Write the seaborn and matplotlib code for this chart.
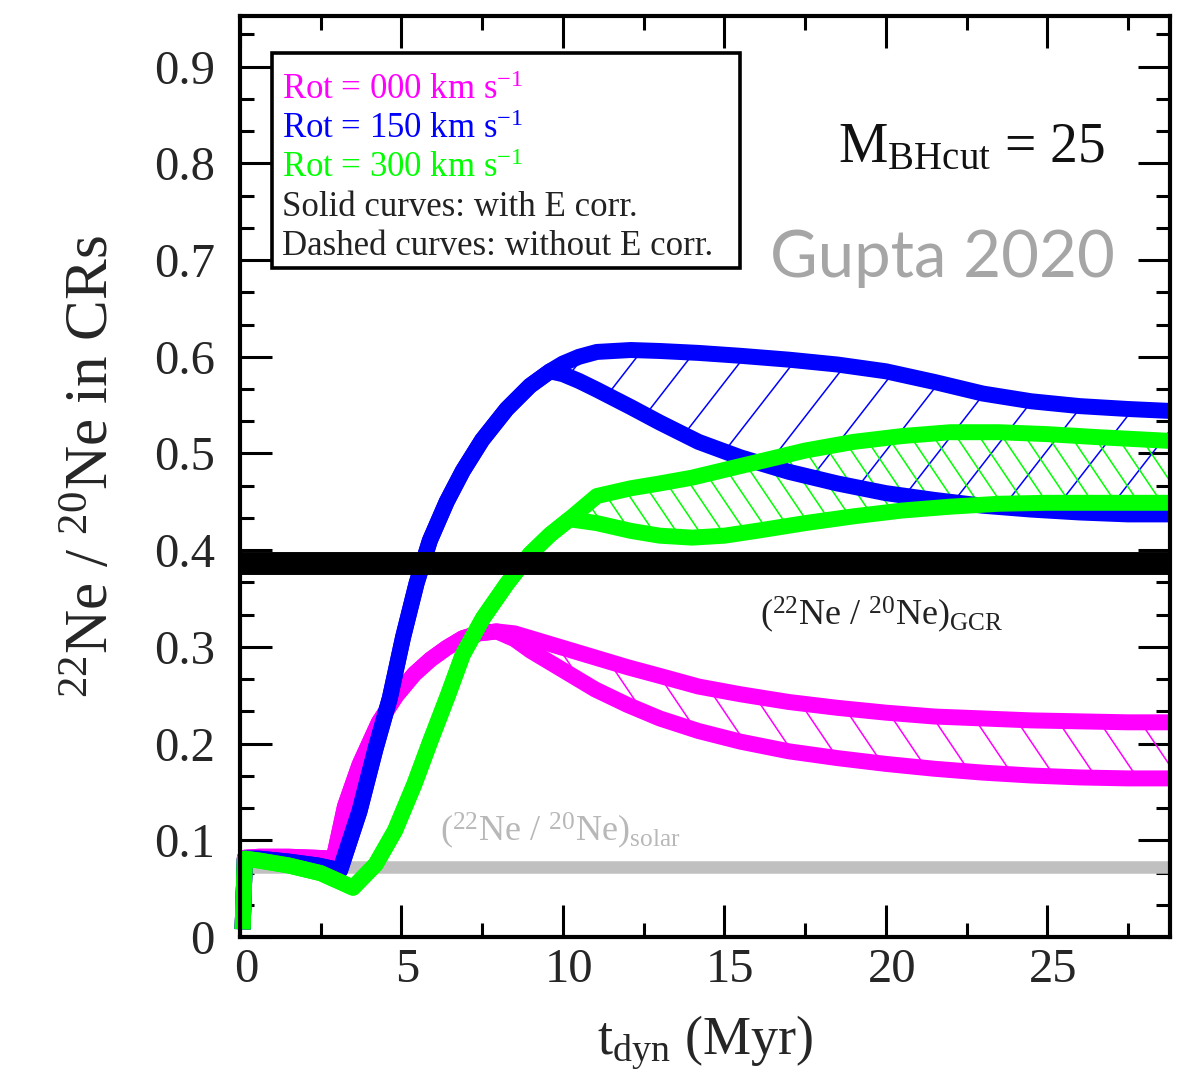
import numpy as np
import matplotlib
matplotlib.use("Agg")
import matplotlib.pyplot as plt
from matplotlib.ticker import MultipleLocator, FuncFormatter
from matplotlib.patches import Rectangle
from matplotlib.transforms import ScaledTranslation
import seaborn as sns

# ---- data: 22Ne/20Ne ratio vs dynamical time (Myr) for three rotation speeds ----
t_000 = [0.08, 0.15, 0.6, 1.5, 2.3, 2.9, 3.25, 3.7, 4.3, 4.85, 5.4, 5.9, 6.4, 6.9, 7.4, 7.95,
         8.5, 9.0, 10.0, 11.0, 12.0, 13.0, 14.2, 15.5, 17.0, 18.5, 20.0, 21.5, 23.0, 24.5, 26.0, 27.5, 28.8]
rot000_with = [0.008, 0.082, 0.083, 0.083, 0.082, 0.081, 0.135, 0.178, 0.222, 0.250, 0.272, 0.287, 0.299, 0.309, 0.314, 0.316,
               0.314, 0.309, 0.299, 0.289, 0.279, 0.270, 0.259, 0.251, 0.243, 0.237, 0.232, 0.228, 0.226, 0.224, 0.223, 0.222, 0.222]
rot000_without = [0.008, 0.082, 0.083, 0.083, 0.082, 0.081, 0.135, 0.178, 0.222, 0.250, 0.272, 0.287, 0.299, 0.309, 0.314, 0.316,
                  0.308, 0.296, 0.276, 0.256, 0.240, 0.226, 0.213, 0.202, 0.192, 0.185, 0.179, 0.174, 0.170, 0.167, 0.165, 0.164, 0.164]

t_150 = [0.08, 0.15, 0.6, 1.5, 2.4, 3.1, 3.7, 4.2, 4.64, 5.05, 5.47, 5.88, 6.4, 6.9, 7.5, 8.26, 8.98, 9.6,
         10.0, 10.5, 11.05, 12.1, 13.0, 14.2, 15.5, 17.0, 18.5, 20.0, 21.5, 23.0, 24.5, 26.0, 27.5, 28.8]
rot150_with = [0.008, 0.081, 0.081, 0.078, 0.074, 0.069, 0.130, 0.195, 0.247, 0.310, 0.366, 0.410, 0.450, 0.482, 0.514, 0.546, 0.570, 0.585,
               0.593, 0.600, 0.605, 0.607, 0.606, 0.604, 0.601, 0.597, 0.592, 0.585, 0.574, 0.562, 0.554, 0.549, 0.546, 0.544]
rot150_without = [0.008, 0.081, 0.081, 0.078, 0.074, 0.069, 0.130, 0.195, 0.247, 0.310, 0.366, 0.410, 0.450, 0.482, 0.514, 0.546, 0.570, 0.585,
                  0.582, 0.575, 0.566, 0.548, 0.532, 0.512, 0.496, 0.481, 0.469, 0.459, 0.452, 0.446, 0.442, 0.439, 0.437, 0.437]

t_300 = [0.08, 0.15, 0.6, 1.5, 2.5, 3.5, 4.2, 4.8, 5.4, 5.9, 6.44, 6.9, 7.53, 8.26, 8.98, 9.6, 10.2,
         11.05, 12.1, 13.0, 14.0, 15.0, 16.0, 17.5, 19.0, 20.5, 22.0, 23.5, 25.0, 26.5, 28.8]
rot300_with = [0.008, 0.081, 0.079, 0.074, 0.066, 0.051, 0.075, 0.110, 0.158, 0.203, 0.250, 0.292, 0.330, 0.365, 0.396, 0.416, 0.432,
               0.456, 0.464, 0.469, 0.475, 0.483, 0.491, 0.503, 0.512, 0.518, 0.522, 0.522, 0.520, 0.517, 0.513]
rot300_without = [0.008, 0.081, 0.079, 0.074, 0.066, 0.051, 0.075, 0.110, 0.158, 0.203, 0.250, 0.292, 0.330, 0.365, 0.396, 0.416, 0.432,
                  0.428, 0.420, 0.415, 0.413, 0.415, 0.420, 0.428, 0.435, 0.441, 0.445, 0.448, 0.449, 0.449, 0.449]

gcr_ratio = 0.387
solar_ratio = 0.0725

legend_lines = ["Rot = 000 km s$^{-1}$", "Rot = 150 km s$^{-1}$", "Rot = 300 km s$^{-1}$",
                "Solid curves: with E corr.", "Dashed curves: without E corr."]
x_ticks = [0, 5, 10, 15, 20, 25]
y_ticks = [0, 0.1, 0.2, 0.3, 0.4, 0.5, 0.6, 0.7, 0.8, 0.9]

MAGENTA, BLUE, GREEN = "#ff00ff", "#0000ff", "#00ff00"

sns.set_style("ticks")
plt.rcParams["font.family"] = ["Liberation Serif", "DejaVu Serif"]
plt.rcParams["mathtext.fontset"] = "custom"
plt.rcParams["mathtext.rm"] = "Liberation Serif"
plt.rcParams["mathtext.it"] = "Liberation Serif:italic"
plt.rcParams["mathtext.bf"] = "Liberation Serif:bold"

fig = plt.figure(figsize=(11.95, 10.82), dpi=100)
ax = fig.add_axes([240 / 1195, 1 - 937 / 1082, 930 / 1195, 921 / 1082])
ax.set_facecolor("white")


def hatch_between(t, y1, y2, color, spacing, slope, lw=1.1):
    """Fill the band between two curves with thin diagonal hatch lines."""
    band = ax.fill_between(t, y1, y2, facecolor="none", edgecolor="none", linewidth=0, zorder=1)
    clip = band.get_paths()[0]
    for c in np.arange(-3.0, 3.0, spacing):
        xs = np.array([-0.1, 1.1])
        ys = c + slope * xs
        ln, = ax.plot(xs, ys, transform=ax.transAxes, color=color, lw=lw, zorder=1.5)
        ln.set_clip_path(clip, ax.transData)


hatch_between(t_000, rot000_with, rot000_without, MAGENTA, 0.066, -1.5)
hatch_between(t_150, rot150_with, rot150_without, BLUE, 0.075, 1.3)
hatch_between(t_300, rot300_with, rot300_without, GREEN, 0.037, -1.5)

# reference ratios
ax.axhline(solar_ratio, color="#c0c0c0", lw=9, zorder=2)

curve_kw = dict(linewidth=11.5, estimator=None, sort=False, clip_on=False,
                solid_joinstyle="round", solid_capstyle="butt", zorder=3)
for t, ya, yb, col in [(t_000, rot000_with, rot000_without, MAGENTA),
                       (t_150, rot150_with, rot150_without, BLUE),
                       (t_300, rot300_with, rot300_without, GREEN)]:
    sns.lineplot(x=t, y=ya, color=col, ax=ax, **curve_kw)
    sns.lineplot(x=t, y=yb, color=col, ax=ax, **curve_kw)

ax.axhline(gcr_ratio, color="black", lw=16.5, zorder=4)

ax.text(16.1, 0.3225, r"($^{22}$Ne / $^{20}$Ne)$_{\mathrm{GCR}}$", fontsize=26,
        color="#222222", ha="left", va="baseline", zorder=5)
ax.text(6.19, 0.099, r"($^{22}$Ne / $^{20}$Ne)$_{\mathrm{solar}}$", fontsize=26,
        color="#b8b8b8", ha="left", va="baseline", zorder=5)

# axes, ticks
ax.set_xlim(0, 28.8)
ax.set_ylim(0, 0.9524)
ax.set_xticks(x_ticks)
ax.set_yticks(y_ticks)
ax.xaxis.set_minor_locator(MultipleLocator(2.5))
ax.yaxis.set_minor_locator(MultipleLocator(0.1 / 3))
ax.xaxis.set_major_formatter(FuncFormatter(lambda v, p: f"{v:.0f}"))
ax.yaxis.set_major_formatter(FuncFormatter(lambda v, p: "0" if abs(v) < 1e-9 else f"{v:.1f}"))
ax.tick_params(which="both", direction="in", top=True, right=True, width=2.2, color="black")
ax.tick_params(which="major", length=23)
ax.tick_params(which="minor", length=10)
ax.tick_params(axis="y", which="major", labelsize=35, pad=18)
ax.tick_params(axis="x", which="major", labelsize=35, pad=8)
shift = ScaledTranslation(6 / 100, 0, fig.dpi_scale_trans)
for lab in ax.get_xticklabels():
    lab.set_transform(lab.get_transform() + shift)
for s in ax.spines.values():
    s.set_linewidth(3)
    s.set_color("black")
    s.set_zorder(6)

ax.set_ylabel(r"$^{22}$Ne / $^{20}$Ne in CRs", fontsize=44)
ax.yaxis.set_label_coords(-0.128, 0.511)
ax.set_xlabel(r"t$_{\mathrm{dyn}}$ (Myr)", fontsize=39)
ax.xaxis.set_label_coords(0.5, -0.083)

# legend box with coloured text lines
ax.add_patch(Rectangle((0.0344, 0.7264), 0.5032, 0.2334, transform=ax.transAxes,
                       facecolor="white", edgecolor="black", lw=2.6, zorder=7))
legend_colors = [MAGENTA, BLUE, GREEN, "#222222", "#222222"]
for i, (txt, col) in enumerate(zip(legend_lines, legend_colors)):
    ax.text(0.0452, 0.9099 - i * 0.04235, txt, transform=ax.transAxes, fontsize=25,
            color=col, ha="left", va="baseline", zorder=8)

ax.text(0.930, 0.8415, r"M$_{\mathrm{BHcut}}$ = 25", transform=ax.transAxes, fontsize=40,
        color="#111111", ha="right", va="baseline", zorder=8)
ax.text(0.941, 0.7166, "Gupta 2020", transform=ax.transAxes, fontsize=47,
        family=["Lato", "DejaVu Sans"], color="#a6a6a6", ha="right", va="baseline", zorder=8)

fig.savefig("out.png", dpi=100, facecolor="white")
